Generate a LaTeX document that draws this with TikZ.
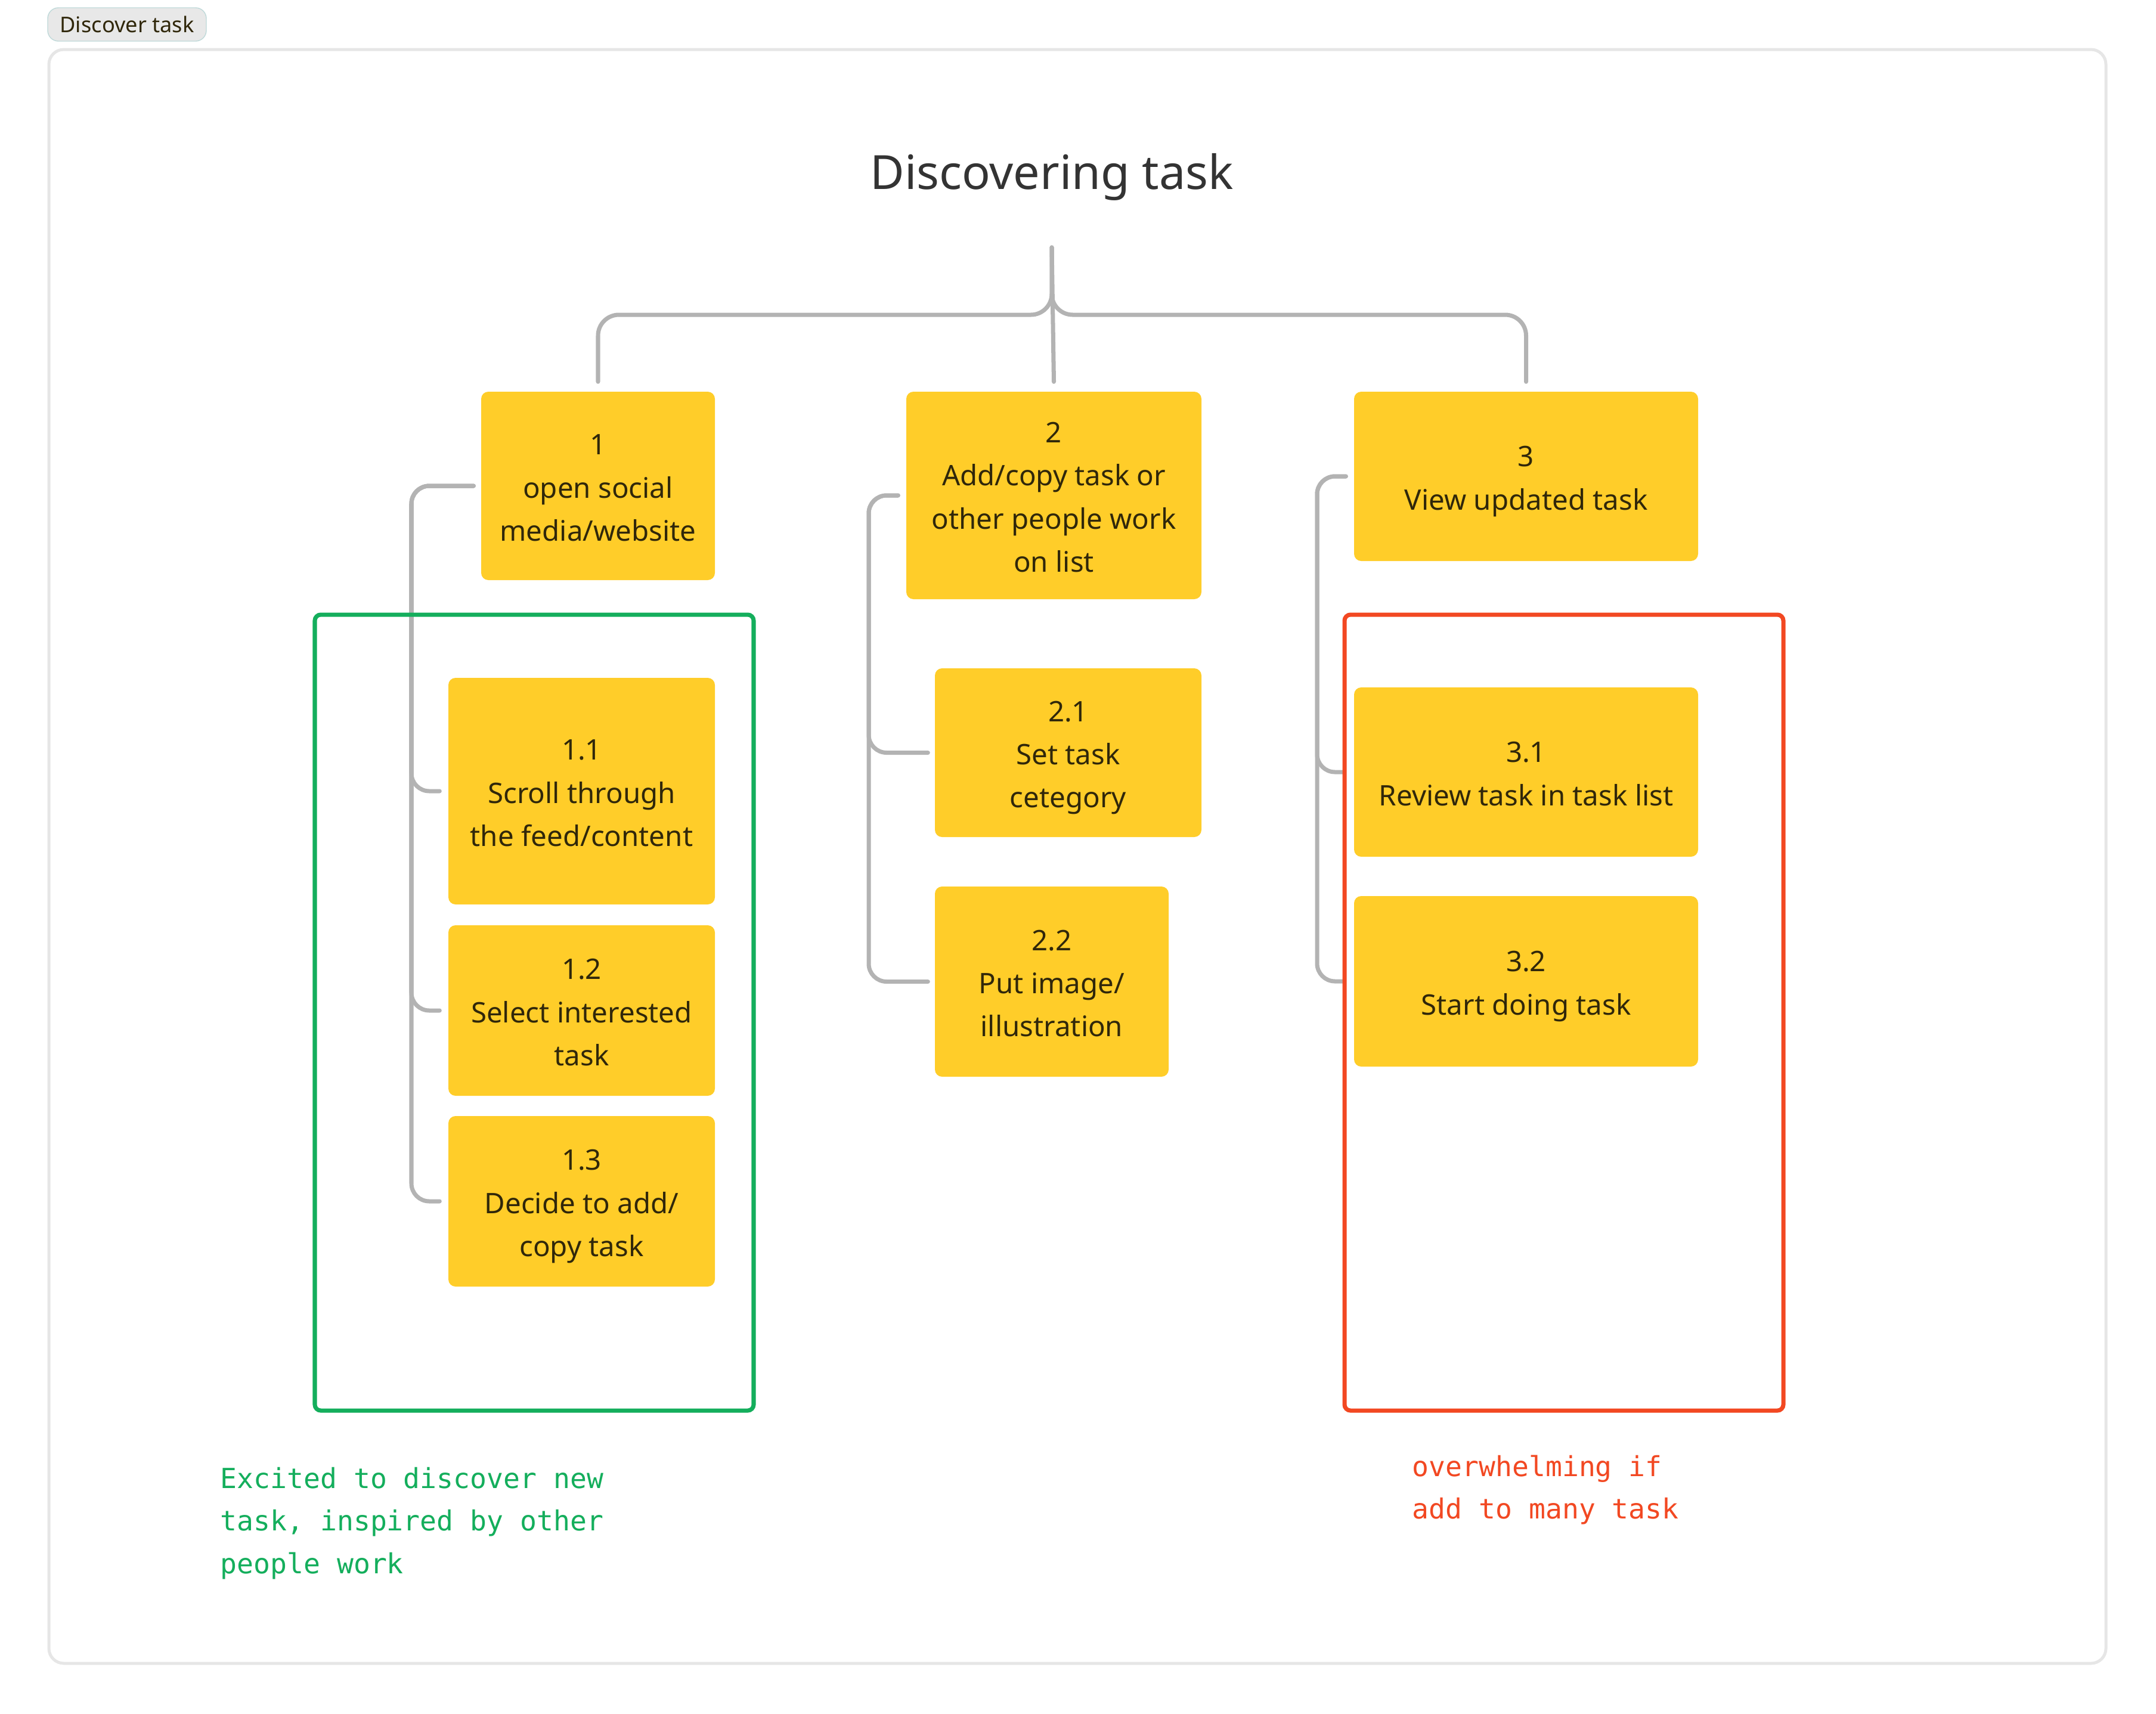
\documentclass[tikz,border=0pt]{standalone}
\usepackage{fontspec}
\setmainfont{Noto Sans}
\newfontfamily\notefont{DejaVu Sans Mono}
\definecolor{stickyyellow}{HTML}{FFCD29}
\definecolor{stickytext}{HTML}{30270A}
\definecolor{linegray}{HTML}{B3B3B3}
\definecolor{framegray}{HTML}{E6E6E6}
\definecolor{titlegray}{HTML}{333333}
\definecolor{moodgreen}{HTML}{14AE5C}
\definecolor{moodred}{HTML}{F24822}
\newcommand\stepnum[1]{\rule{0pt}{14.9pt}#1}
\begin{document}
\begin{tikzpicture}[x=1cm, y=-1cm,
    sticky/.style={fill=stickyyellow, rounded corners=0.12cm, text=stickytext, align=center, inner sep=0pt, font=\fontsize{13.5}{20.6}\selectfont,
      execute at end node={\rule[-3.5pt]{0pt}{0pt}}},
    tree/.style={draw=linegray, line width=2pt, line cap=round, rounded corners=0.35cm},
    bracket/.style={draw=linegray, line width=2pt, line cap=round, rounded corners=0.3cm},
    mood/.style={line width=2pt, rounded corners=0.1cm},
    note/.style={align=left, inner sep=0pt, anchor=west, font=\notefont\fontsize{13.2}{20.3}\selectfont}]
  \useasboundingbox (0,0) rectangle (36.16,28.74);
  \draw[framegray, line width=0.05cm, rounded corners=0.25cm] (0.82,0.83) rectangle (35.32,27.90);
  \node[draw=black!20!teal!25, fill=black!9, rounded corners=0.18cm, minimum width=2.66cm, minimum height=0.56cm, inner sep=0pt, text=stickytext, font=\fontsize{10.3}{12}\selectfont] (tag) at (2.13,0.41) {Discover task};
  \node[text=titlegray, font=\fontsize{22.5}{26}\selectfont] (title) at (17.64,2.97) {Discovering task};

  \node[sticky, minimum width=3.92cm, minimum height=3.16cm] (box1) at (10.03,8.15) {\stepnum{1}\\open social\\media/website};
  \node[sticky, minimum width=4.95cm, minimum height=3.48cm] (box2) at (17.675,8.31) {\stepnum{2}\\Add/copy task or\\other people work\\on list};
  \node[sticky, minimum width=5.77cm, minimum height=2.84cm] (box3) at (25.595,7.99) {\stepnum{3}\\View updated task};
  \node[sticky, minimum width=4.47cm, minimum height=3.80cm] (box11) at (9.755,13.27) {\stepnum{1.1}\\Scroll through\\the feed/content};
  \node[sticky, minimum width=4.47cm, minimum height=2.86cm] (box12) at (9.755,16.95) {\stepnum{1.2}\\Select interested\\task};
  \node[sticky, minimum width=4.47cm, minimum height=2.86cm] (box13) at (9.755,20.15) {\stepnum{1.3}\\Decide to add/\\copy task};
  \node[sticky, minimum width=4.47cm, minimum height=2.83cm] (box21) at (17.915,12.625) {\stepnum{2.1}\\Set task\\cetegory};
  \node[sticky, minimum width=3.92cm, minimum height=3.19cm] (box22) at (17.64,16.465) {\stepnum{2.2}\\Put image/\\illustration};
  \node[sticky, minimum width=5.77cm, minimum height=2.84cm] (box31) at (25.595,12.95) {\stepnum{3.1}\\Review task in task list};
  \node[sticky, minimum width=5.77cm, minimum height=2.86cm] (box32) at (25.595,16.46) {\stepnum{3.2}\\Start doing task};

  \coordinate (root) at (17.64,4.15);
  \coordinate (hub) at (17.64,5.28);
  \draw[tree] (root) -- (hub) -- (hub -| box1) -- ([yshift=0.16cm]box1.north);
  \draw[tree] (root) -- (hub) -- (hub -| box3) -- ([yshift=0.16cm]box3.north);
  \draw[tree] (root) -- ([yshift=0.16cm]box2.north);

  \coordinate (g1) at (6.90,0);
  \coordinate (g2) at (14.57,0);
  \coordinate (g3) at (22.09,0);
  \foreach \c in {box11,box12,box13}
    \draw[bracket] ([xshift=-0.12cm]box1.west) -- (box1.west -| g1) -- (\c.west -| g1) -- ([xshift=-0.14cm]\c.west);
  \foreach \c in {box21,box22}
    \draw[bracket] ([xshift=-0.13cm]box2.west) -- (box2.west -| g2) -- (\c.west -| g2) -- ([xshift=-0.11cm]\c.west);
  \foreach \c in {box31,box32}
    \draw[bracket] ([xshift=-0.13cm]box3.west) -- (box3.west -| g3) -- (\c.west -| g3) -- ([xshift=-0.16cm]\c.west);

  \draw[mood, moodgreen] (5.28,10.31) rectangle (12.64,23.66);
  \draw[mood, moodred] (22.55,10.31) rectangle (29.91,23.66);
  \node[note, text=moodgreen] (excited) at (3.69,25.55) {Excited to discover new\\task, inspired by other\\people work};
  \node[note, text=moodred] (overwhelmed) at (23.68,24.99) {overwhelming if\\add to many task};
\end{tikzpicture}
\end{document}
